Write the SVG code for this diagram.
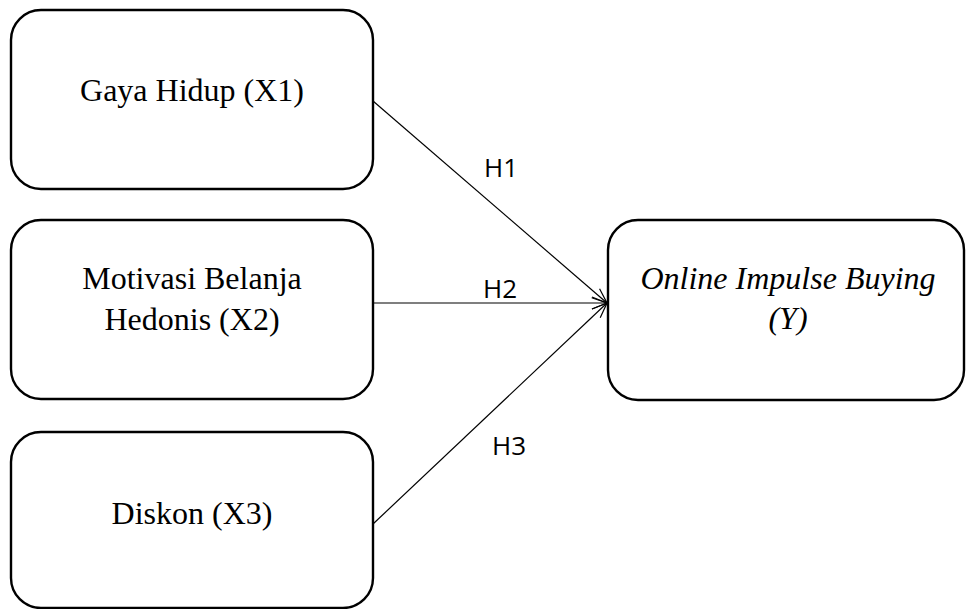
<svg xmlns="http://www.w3.org/2000/svg" width="966" height="609" viewBox="0 0 966 609">
<style>
.box{fill:#fff;stroke:#000;stroke-width:2.4}
.t{font-family:"Liberation Serif","Times New Roman",serif;font-size:32px;fill:#000;text-anchor:middle}
.ti{font-style:italic}
.lbl{font-family:"Open Sans","Noto Sans",sans-serif;font-size:26px;fill:#000}
.edge{stroke:#000;stroke-width:1.2;fill:none;marker-end:url(#arr)}
</style>
<defs>
<marker id="arr" markerUnits="userSpaceOnUse" viewBox="-16 -8 18 16" refX="0" refY="0" markerWidth="18" markerHeight="16" orient="auto">
<path d="M-15,-6 L0,0 L-15,6" fill="none" stroke="#000" stroke-width="1.2"/>
</marker>
</defs>
<g id="connectors">
<line class="edge" x1="373" y1="101" x2="607" y2="303"/>
<line class="edge" x1="373" y1="303" x2="607" y2="303"/>
<line class="edge" x1="373" y1="524" x2="607" y2="303"/>
<text class="lbl" x="484" y="177">H1</text>
<text class="lbl" x="483" y="298">H2</text>
<text class="lbl" x="492" y="455">H3</text>
</g>
<g id="node-x1">
<rect class="box" x="11" y="10" width="362" height="179" rx="30" ry="30"/>
<text class="t" x="192" y="101">Gaya Hidup (X1)</text>
</g>
<g id="node-x2">
<rect class="box" x="11" y="220" width="362" height="179" rx="30" ry="30"/>
<text class="t" x="192" y="289">Motivasi Belanja</text>
<text class="t" x="192" y="330">Hedonis (X2)</text>
</g>
<g id="node-x3">
<rect class="box" x="11" y="432" width="362" height="176" rx="30" ry="30"/>
<text class="t" x="192" y="524">Diskon (X3)</text>
</g>
<g id="node-y">
<rect class="box" x="608" y="220" width="356" height="180" rx="30" ry="30"/>
<text class="t ti" x="788" y="289">Online Impulse Buying</text>
<text class="t ti" x="788" y="329">(Y)</text>
</g>
</svg>
